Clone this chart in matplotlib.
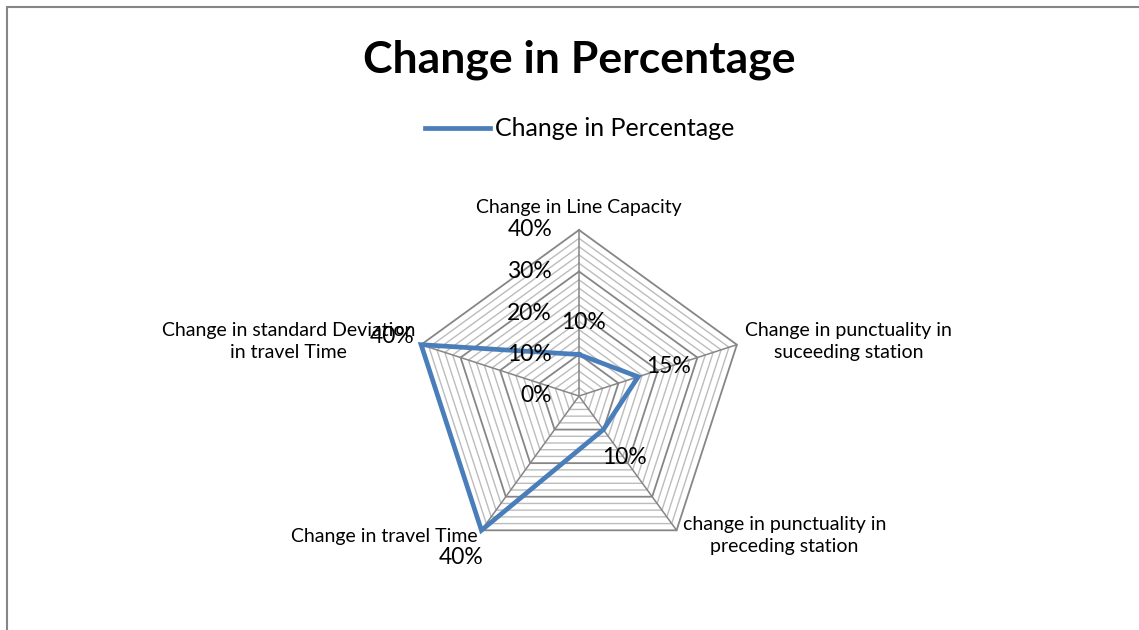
import numpy as np
import matplotlib
matplotlib.use("Agg")
import matplotlib.pyplot as plt
from matplotlib.patches import Rectangle

plt.rcParams['font.family'] = ['Lato', 'DejaVu Sans']

categories = ["Change in Line Capacity",
              "Change in punctuality in\nsuceeding station",
              "change in punctuality in\npreceding station",
              "Change in travel Time",
              "Change in standard Deviation\nin travel Time"]
values = [10, 15, 10, 40, 40]
value_labels = ["10%", "15%", "10%", "40%", "40%"]
tick_values = [0, 10, 20, 30, 40]
tick_labels = ["0%", "10%", "20%", "30%", "40%"]
series_name = "Change in Percentage"
title = "Change in Percentage"

W, H, DPI = 1139, 630, 100
fig = plt.figure(figsize=(W / DPI, H / DPI), dpi=DPI)
ax = fig.add_axes([0, 0, 1, 1])
ax.set_axis_off()

# scale: 40% -> 166 px ; centre at pixel (579, 396)
ppu = 166 / 40.0
cx, cy = 579, 396
ax.set_xlim(-cx / ppu, (W - cx) / ppu)
ax.set_ylim(-(H - cy) / ppu, cy / ppu)

n = len(categories)
angles = np.pi / 2 - np.arange(n) * 2 * np.pi / n
rmax = max(tick_values)

# grid rings every 2%
for r in np.arange(2, rmax + 0.1, 2):
    xs = np.append(r * np.cos(angles), r * np.cos(angles[0]))
    ys = np.append(r * np.sin(angles), r * np.sin(angles[0]))
    major = (round(r) % 10 == 0)
    ax.plot(xs, ys, color='#868686' if major else '#bcbcbc',
            lw=1.3 if major else 1.0, zorder=1)
# spokes
for a in angles:
    ax.plot([0, rmax * np.cos(a)], [0, rmax * np.sin(a)], color='#868686', lw=1.1, zorder=1)

# series
vx = np.array(values) * np.cos(angles)
vy = np.array(values) * np.sin(angles)
line, = ax.plot(np.append(vx, vx[0]), np.append(vy, vy[0]), color='#4a7ebb', lw=3.4,
                solid_joinstyle='miter', zorder=3, label=series_name)

# tick labels along top axis
for tv, tl in zip(tick_values, tick_labels):
    ax.annotate(tl, (0, tv), xytext=(-27, 0), textcoords='offset pixels',
                ha='right', va='center', fontsize=16.5, zorder=4)

# category labels
cat_off = [(0, 22, 'center'), (8, 3, 'left'), (6, -5, 'left'), (-4, -6, 'right'), (-6, 3, 'right')]
for a, c, (ox, oy, ha) in zip(angles, categories, cat_off):
    ax.annotate(c, (rmax * np.cos(a), rmax * np.sin(a)), xytext=(ox, oy),
                textcoords='offset pixels', ha=ha, va='center', multialignment='center',
                fontsize=14, linespacing=1.35, zorder=4)

# data labels
dl_off = [(4, 32), (30, 10), (21, -28), (-20, -27), (-29, 8)]
for x, y, t, (ox, oy) in zip(vx, vy, value_labels, dl_off):
    ax.annotate(t, (x, y), xytext=(ox, oy), textcoords='offset pixels',
                ha='center', va='center', fontsize=16.5, zorder=5)

# title
fig.text(579 / W, 1 - 60 / H, title, ha='center', va='center', fontsize=32, fontweight='bold')

# legend
fig.legend(handles=[line], labels=[series_name], loc='center', bbox_to_anchor=(580 / W, 1 - 129 / H),
           frameon=False, fontsize=18, handlelength=2.6, handletextpad=0.2)

# chart frame
fig.patches.append(Rectangle((7 / W, -0.05), 1.1, 1 - 7 / H + 0.05, transform=fig.transFigure,
                             fill=False, edgecolor='#868686', lw=1.5))

fig.savefig('out.png', dpi=DPI)
